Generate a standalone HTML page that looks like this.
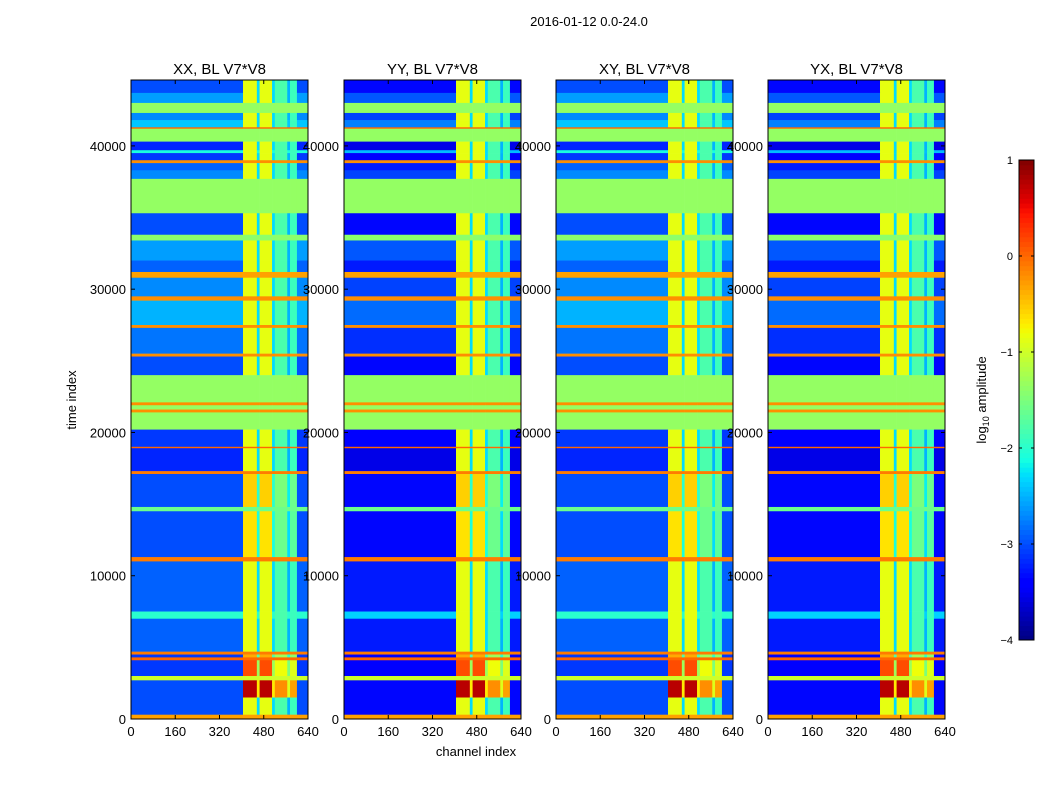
<!DOCTYPE html>
<html><head><meta charset="utf-8">
<style>
body{margin:0;background:#fff;font-family:"Liberation Sans",sans-serif;}
svg text{font-family:"Liberation Sans",sans-serif;}
</style></head>
<body>
<svg id="fig" width="1050" height="800" xmlns="http://www.w3.org/2000/svg">
<rect width="1050" height="800" fill="#fff"/>
<text x="589" y="26" font-size="13" text-anchor="middle">2016-01-12 0.0-24.0</text>
<text transform="translate(76,400) rotate(-90)" font-size="13" text-anchor="middle">time index</text>
<text x="476" y="756" font-size="13" text-anchor="middle">channel index</text>
<text transform="translate(986,400) rotate(-90)" font-size="13" text-anchor="middle">log<tspan font-size="9" dy="3">10</tspan><tspan dy="-3"> amplitude</tspan></text>
<g id="panels"></g>
<g id="cbar"></g>
</svg>
<script>
// ---- data ----
const panelTitles = ["XX, BL V7*V8","YY, BL V7*V8","XY, BL V7*V8","YX, BL V7*V8"];
const panelOffsets = [0, -0.35, 0, -0.35];
const xTicks = [0,160,320,480,640];
const yTicks = [0,10000,20000,30000,40000];
const cbTicks = [1,0,-1,-2,-3,-4];
// time rows: [t0, t1, value, uniform(1=flag across all channels), brightAdd]
const timeRows = [
[43700,44600,-3.0,0,0],[43000,43700,-2.6,0,0],[42300,43000,-1.35,1,0],
[41800,42300,-2.7,0,0],[41300,41800,-2.4,0,0],[41200,41300,0.0,1,0],
[40300,41200,-1.35,1,0],[39700,40300,-3.2,0,0],[39500,39700,-2.1,0,0],
[39000,39500,-3.1,0,0],[38800,39000,-0.2,1,0],[38300,38800,-2.9,0,0],
[37700,38300,-2.7,0,0],[35300,37700,-1.35,1,0],[33800,35300,-3.0,0,0],
[33400,33800,-1.4,1,0],[32000,33400,-2.6,0,0],[31200,32000,-2.9,0,0],
[30800,31200,-0.3,1,0],[29500,30800,-2.7,0,0],[29200,29500,-0.2,1,0],
[27500,29200,-2.5,0,0],[27300,27500,-0.2,1,0],[25500,27300,-2.8,0,0],
[25300,25500,-0.2,1,0],[24000,25300,-3.0,0,0],[22100,24000,-1.35,1,0],
[21900,22100,-0.2,1,0],[21600,21900,-1.35,1,0],[21400,21600,-0.2,1,0],
[20200,21400,-1.35,1,0],[19000,20200,-3.1,0,0],[18900,19000,0.0,1,0],
[17300,18900,-3.2,0,0],[17100,17300,-0.1,1,0],[14800,17100,-3.0,0,0.3],
[14500,14800,-1.6,1,0],[11300,14500,-3.0,0,0.2],[11000,11300,-0.1,1,0],
[7500,11000,-2.9,0,0],[7000,7500,-2.0,0,0],[4700,7000,-2.9,0,0],
[4500,4700,-0.1,1,0],[4300,4500,-3.1,0,0.5],[4100,4300,0.0,1,0],
[3000,4100,-3.1,0,1.0],[2700,3000,-1.0,1,0],[1500,2700,-3.0,0,1.6],
[300,1500,-3.0,0,0],[0,300,-0.3,1,0]];
// channel bands: [c0, c1, level (for bright channels; null = base)]
const chanBands = [[0,405,null],[405,455,-0.85],[455,465,-2.3],[465,510,-0.85],
[510,520,-2.3],[520,565,-1.8],[565,575,-2.5],[575,600,-1.9],[600,640,null]];

// ---- helpers ----
function interp(pts,t){for(let i=1;i<pts.length;i++){if(t<=pts[i][0]){const a=pts[i-1],b=pts[i];return a[1]+(b[1]-a[1])*(t-a[0])/(b[0]-a[0]);}}return pts[pts.length-1][1];}
const RP=[[0,0],[0.35,0],[0.66,1],[0.89,1],[1,0.5]];
const GP=[[0,0],[0.125,0],[0.375,1],[0.64,1],[0.91,0],[1,0]];
const BP=[[0,0.5],[0.11,1],[0.34,1],[0.65,0],[1,0]];
function jet(v){
  const t=Math.max(0,Math.min(1,(v+4)/5));
  return `rgb(${Math.round(interp(RP,t)*255)},${Math.round(interp(GP,t)*255)},${Math.round(interp(BP,t)*255)})`;
}
const NS="http://www.w3.org/2000/svg";
function el(tag,attrs,parent){const e=document.createElementNS(NS,tag);for(const k in attrs)e.setAttribute(k,attrs[k]);parent.appendChild(e);return e;}
const panelX=[131,344,556,768], PW=177, PT=80, PB=719, TMAX=44600;
const yScale=t=>PB-(t/TMAX)*(PB-PT);
const panels=document.getElementById('panels');
panelTitles.forEach((title,p)=>{
  const x0=panelX[p];
  const xScale=c=>x0+c/640*PW;
  const g=el('g',{},panels);
  
  
  timeRows.forEach(r=>{
    chanBands.forEach(cb=>{
      let v;
      if(r[3]) v=r[2];
      else if(cb[2]===null) v=r[2]+panelOffsets[p];
      else v=Math.max(r[2]+panelOffsets[p], cb[2]+r[4]);
      const y1=yScale(r[1]), y0=yScale(r[0]);
      const rc=el('rect',{x:xScale(cb[0]),y:y1,width:xScale(cb[1])-xScale(cb[0])+0.3,height:y0-y1+0.3,fill:jet(v)},g);
      
      
    });
  });
  const fr=el('rect',{x:x0,y:PT,width:PW,height:PB-PT,fill:'none',stroke:'#000','stroke-width':1},g);
  
  
  const tt=el('text',{x:x0+PW/2,y:74,'font-size':15,'text-anchor':'middle'},g);
  tt.textContent=title;
  
  
  xTicks.forEach(c=>{
    const x=xScale(c);
    el('line',{x1:x,x2:x,y1:PB,y2:PB-4,stroke:'#000'},g);
    el('line',{x1:x,x2:x,y1:PT,y2:PT+4,stroke:'#000'},g);
    const t=el('text',{x:x,y:PB+17,'font-size':13,'text-anchor':'middle'},g);
    t.textContent=c;
    
    
  });
  yTicks.forEach(v=>{
    const y=yScale(v);
    el('line',{x1:x0,x2:x0+4,y1:y,y2:y,stroke:'#000'},g);
    el('line',{x1:x0+PW,x2:x0+PW-4,y1:y,y2:y,stroke:'#000'},g);
    const t=el('text',{x:x0-5,y:y+5,'font-size':13,'text-anchor':'end'},g);
    t.textContent=v;
    
    
  });
});
// colorbar
const cbar=document.getElementById('cbar');
const CT=160,CB=640,CX=1019,CW=15;
const cScale=v=>CB-(v+4)/5*(CB-CT);
for(let i=0;i<100;i++){
  const v0=-4+i*0.05, v1=v0+0.05;
  const r=el('rect',{x:CX,y:cScale(v1),width:CW,height:cScale(v0)-cScale(v1)+0.5,fill:jet(v0+0.025)},cbar);
  
  
}
el('rect',{x:CX,y:CT,width:CW,height:CB-CT,fill:'none',stroke:'#000'},cbar);
cbTicks.forEach(v=>{
  const y=cScale(v);
  el('line',{x1:CX,x2:CX+3,y1:y,y2:y,stroke:'#000'},cbar);
  el('line',{x1:CX+CW,x2:CX+CW-3,y1:y,y2:y,stroke:'#000'},cbar);
  const t=el('text',{x:CX-6,y:y+4,'font-size':11,'text-anchor':'end'},cbar);
  t.textContent=v<0?'\u2212'+(-v):String(v);
  
  
});
</script>
</body></html>
